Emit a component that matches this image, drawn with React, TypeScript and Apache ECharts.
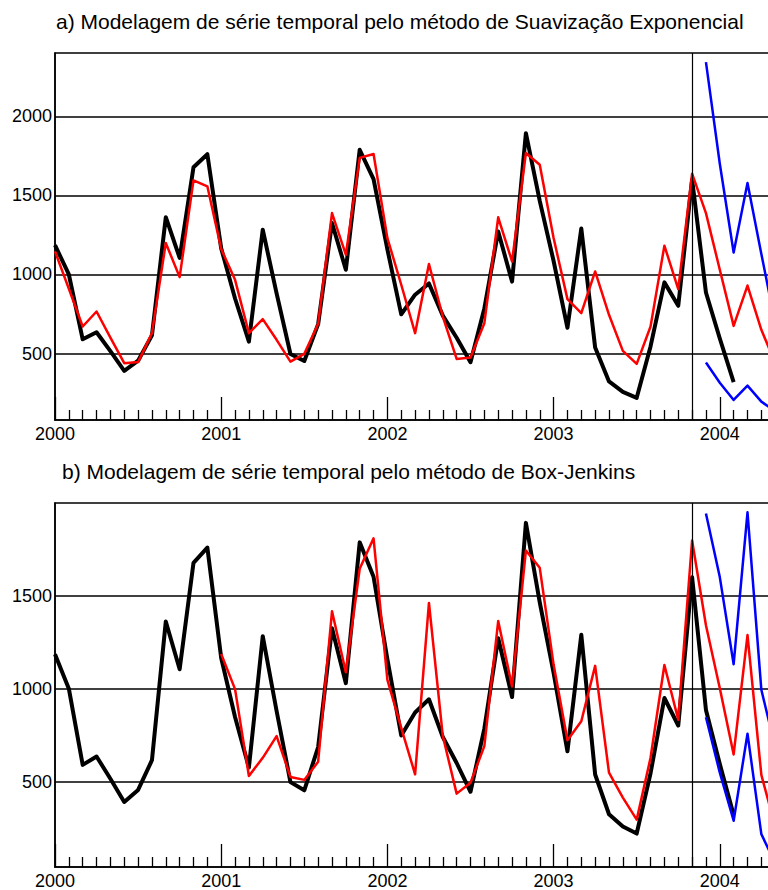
import React, { useEffect, useRef } from "react";
import * as echarts from "echarts";

// Month index 0 = Jan 2000
const yearLabels = ["2000", "2001", "2002", "2003", "2004"];
const yearTickIdx = [0, 12, 24, 36, 48];
const gridValuesA = [500, 1000, 1500, 2000];
const gridValuesB = [500, 1000, 1500];
const forecastOriginIdx = 46;

// Observed series (black), from Jan 2000
const observed = [
  1185, 1000, 590, 635, 515, 390, 455, 615, 1362, 1105, 1678, 1760,
  1165, 848, 575, 1283, 880, 497, 453, 686, 1325, 1030, 1788, 1603,
  1158, 748, 872, 943, 740, 600, 445, 785, 1272, 955, 1893, 1465,
  1085, 663, 1291, 538, 324, 258, 220, 545, 950, 802, 1600, 886,
  595, 320,
];

// a) Exponential smoothing fit + forecast (red), from Jan 2000
const expStart = 0;
const expFit = [
  1146, 910, 671, 766, 601, 439, 446, 629, 1199, 983, 1595, 1557,
  1161, 966, 629, 718, 587, 449, 498, 688, 1388, 1125, 1737, 1762,
  1230, 935, 629, 1066, 734, 466, 475, 692, 1361, 1082, 1768, 1694,
  1230, 844, 756, 1019, 745, 517, 435, 671, 1182, 908, 1637, 1388,
  1030, 675, 930, 650, 440,
];
// a) Forecast bounds (blue), from Dec 2003
const expBoundStart = 47;
const expUpper = [2342, 1700, 1139, 1578, 1130, 690];
const expLower = [443, 316, 207, 297, 196, 135];

// b) Box-Jenkins fit + forecast (red), from Jan 2001
const bjStart = 12;
const bjFit = [
  1187, 998, 530, 628, 745, 525, 509, 607, 1417, 1089, 1646, 1810,
  1048, 789, 539, 1462, 745, 435, 494, 691, 1364, 1012, 1744, 1651,
  1130, 723, 825, 1123, 548, 414, 295, 628, 1128, 833, 1798, 1342,
  1003, 646, 1289, 536, 257,
];
const bjBoundStart = 47;
const bjUpper = [1944, 1601, 1132, 1950, 994, 684];
const bjLower = [846, 548, 289, 758, 217, 60];

const toPairs = (start: number, arr: number[]) => arr.map((v, i) => [start + i, v]);

const FONT = "'Liberation Sans', Arial, sans-serif";
const MONTH_PX = 13.85;
const X_MAX = 60;

function xAxisFor(gridIndex: number) {
  return {
    type: "value",
    gridIndex,
    min: 0,
    max: X_MAX,
    interval: 12,
    axisLine: { show: true, onZero: false, lineStyle: { color: "#000", width: 1.5 } },
    axisTick: { show: true, inside: true, length: 23, lineStyle: { color: "#000", width: 1.3 } },
    minorTick: { show: true, splitNumber: 12, length: 10, lineStyle: { color: "#000", width: 1.3 } },
    splitLine: { show: false },
    axisLabel: {
      show: true,
      margin: 5,
      color: "#000",
      fontSize: 18,
      fontFamily: FONT,
      customValues: yearTickIdx,
      formatter: (v: number) => yearLabels[yearTickIdx.indexOf(Math.round(v))] ?? "",
    },
  };
}

function yAxisFor(gridIndex: number, min: number, max: number, vals: number[]) {
  return {
    type: "value",
    gridIndex,
    min,
    max,
    axisLine: { show: true, lineStyle: { color: "#000", width: 1.5 } },
    axisTick: { show: false, customValues: vals },
    splitLine: { show: true, lineStyle: { color: "#000", width: 1.5 } },
    axisLabel: {
      show: true,
      margin: 3,
      color: "#000",
      fontSize: 18,
      fontFamily: FONT,
      customValues: vals,
      formatter: (v: number) => String(Math.round(v)),
    },
  };
}

const vline = {
  silent: true,
  symbol: ["none", "none"],
  label: { show: false },
  lineStyle: { color: "#000", width: 1.2, type: "solid" },
  data: [{ xAxis: forecastOriginIdx }],
};

function lineSeries(name: string, xi: number, data: number[][], color: string, width: number, extra: any = {}) {
  return {
    name,
    type: "line",
    xAxisIndex: xi,
    yAxisIndex: xi,
    data,
    showSymbol: false,
    symbol: "none",
    lineStyle: { color, width, join: "round" },
    itemStyle: { color },
    ...extra,
  };
}

export default function App() {
  const ref = useRef<HTMLDivElement>(null);
  const innerWidth = 55 + X_MAX * MONTH_PX + 20;
  useEffect(() => {
    if (!ref.current) return;
    const chart = echarts.init(ref.current, undefined, { renderer: "svg" });
    const titleStyle = { fontSize: 21, fontWeight: "normal", fontFamily: FONT, color: "#000" };
    chart.setOption({
      animation: false,
      backgroundColor: "#fff",
      title: [
        { text: "a) Modelagem de série temporal pelo método de Suavização Exponencial", left: 56, top: 11, padding: 0, textStyle: titleStyle },
        { text: "b) Modelagem de série temporal pelo método de Box-Jenkins", left: 62, top: 461, padding: 0, textStyle: titleStyle },
      ],
      grid: [
        { left: 55, top: 53, width: X_MAX * MONTH_PX, height: 367, show: true, borderColor: "#000", borderWidth: 1.5 },
        { left: 55, top: 503, width: X_MAX * MONTH_PX, height: 367, show: true, borderColor: "#000", borderWidth: 1.5 },
      ],
      xAxis: [xAxisFor(0), xAxisFor(1)],
      yAxis: [yAxisFor(0, 80, 2400, gridValuesA), yAxisFor(1, 40, 2000, gridValuesB)],
      series: [
        lineSeries("obsA", 0, toPairs(0, observed), "#000", 4, { markLine: vline }),
        lineSeries("expFit", 0, toPairs(expStart, expFit), "#ff0000", 2.5),
        lineSeries("expUp", 0, toPairs(expBoundStart, expUpper), "#0000ff", 2.5),
        lineSeries("expLo", 0, toPairs(expBoundStart, expLower), "#0000ff", 2.5),
        lineSeries("obsB", 1, toPairs(0, observed), "#000", 4, { markLine: vline }),
        lineSeries("bjFit", 1, toPairs(bjStart, bjFit), "#ff0000", 2.5),
        lineSeries("bjUp", 1, toPairs(bjBoundStart, bjUpper), "#0000ff", 2.5),
        lineSeries("bjLo", 1, toPairs(bjBoundStart, bjLower), "#0000ff", 2.5),
      ],
    });
    return () => chart.dispose();
  }, []);
  return (
    <div style={{ position: "absolute", left: 0, top: 0, width: 768, height: 890, overflow: "hidden", background: "#fff" }}>
      <div ref={ref} style={{ width: innerWidth, height: 890 }} />
    </div>
  );
}
